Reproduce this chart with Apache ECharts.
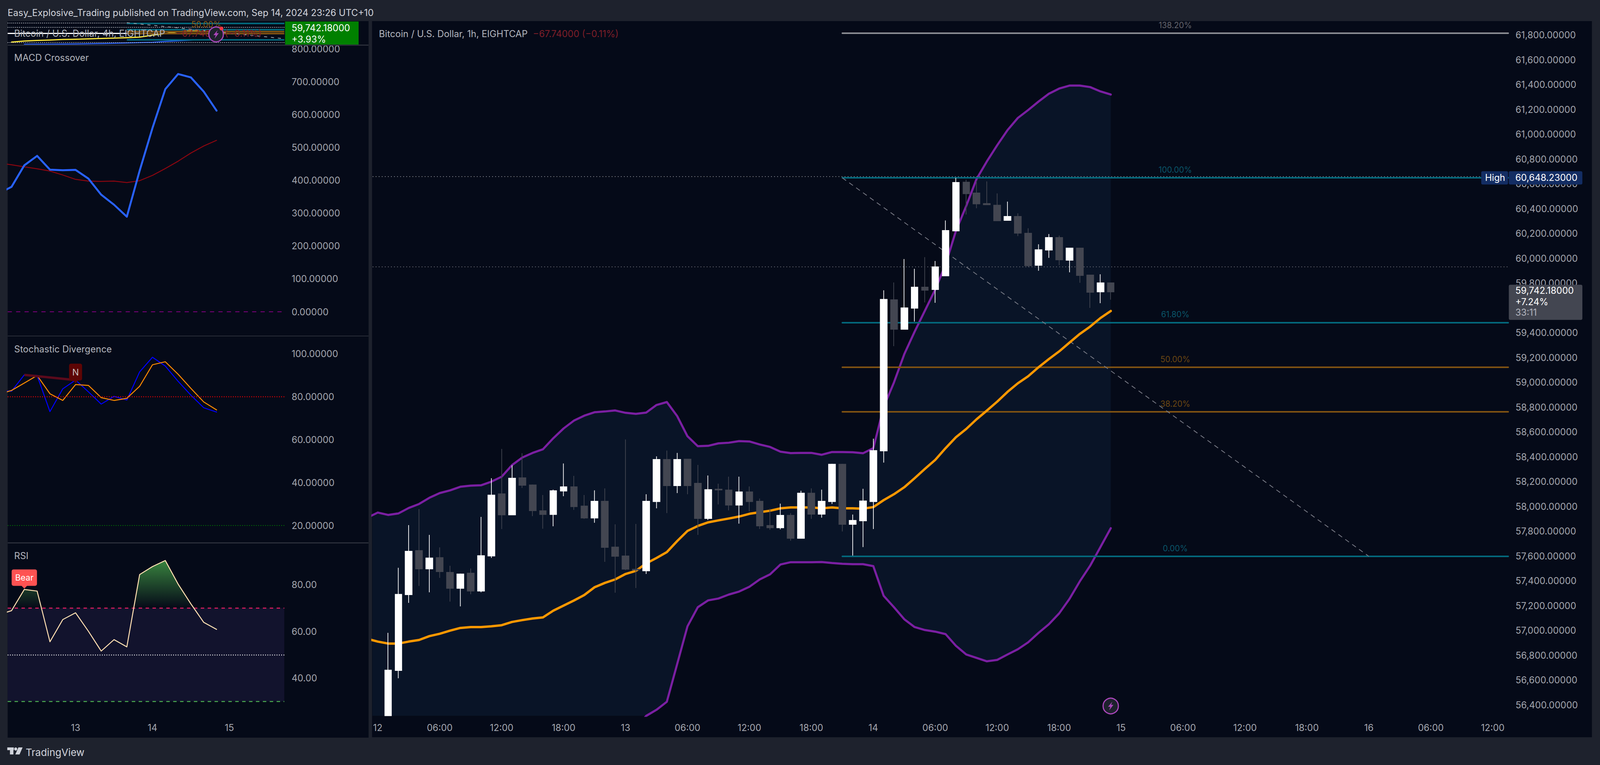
<!DOCTYPE html>
<html><head><meta charset="utf-8">
<style>html,body{margin:0;padding:0;background:#1e222d;overflow:hidden}#c{width:4176px;height:1958px;transform-origin:0 0}</style>
<script src="https://cdn.jsdelivr.net/npm/echarts@6/dist/echarts.min.js"></script>
</head><body><div id="c"></div>
<script>
// ---------- main chart (1h), index 0 = Sep 12 00:00 ----------
const tickLabels=['12','06:00','12:00','18:00','13','06:00','12:00','18:00','14','06:00','12:00','18:00','15','06:00','12:00','18:00','16','06:00','12:00'];
const priceTicks=[56400,56600,56800,57000,57200,57400,57600,57800,58000,58200,58400,58600,58800,59000,59200,59400,59600,59800,60000,60200,60400,60600,60800,61000,61200,61400,61600,61800];
const open=[56150,56312,56677,57288,57644,57496,57587,57468,57339,57462,57317,57600,58101,57931,58230,58173,57965,57934,58123,58158,58003,57906,58041,57672,57600,57493,57480,58038,58378,58167,58381,58186,57902,58139,58132,58010,58117,58041,57846,57827,57928,57742,58107,57937,58038,58340,57855,57883,58038,58447,59666,59427,59597,59767,59748,59858,60220,60614,60526,60441,60428,60305,60337,60202,59943,60066,60167,59984,60082,59865,59729,59802];
const close=[56220,56680,57291,57638,57496,57584,57474,57339,57455,57317,57603,58091,57931,58227,58170,57965,57934,58126,58158,57997,57906,58041,57669,57597,57493,57487,58041,58378,58167,58378,58167,57902,58135,58132,58010,58117,58038,57842,57827,57928,57742,58107,57937,58041,58340,57855,57887,58044,58450,59669,59427,59600,59767,59742,59931,60224,60611,60520,60438,60431,60302,60337,60202,59940,60069,60167,59987,60082,59861,59726,59802,59729];
const low=[56050,56312,56614,57222,57358,57307,57424,57232,57194,57291,57307,57584,57817,57931,58148,57921,57820,57839,58082,57972,57899,57868,57553,57304,57487,57342,57455,57984,57946,58107,58098,57770,57890,58016,57968,57861,57959,57817,57811,57814,57723,57742,57899,57909,58019,57798,57603,57672,57817,58353,59291,59427,59490,59644,59641,59858,60220,60353,60403,60431,60299,60305,60179,59931,59899,60003,59943,59887,59802,59600,59638,59666];
const high=[56280,56980,57505,57849,57978,57770,57669,57521,57458,57499,57915,58227,58463,58331,58428,58176,58091,58135,58346,58246,58091,58129,58145,57855,58539,57858,58098,58403,58450,58431,58381,58334,58249,58183,58239,58239,58161,58063,57981,58022,57946,58126,58145,58135,58343,58343,57934,58142,58546,59742,59805,59994,59915,60009,59978,60305,60648,60633,60624,60620,60523,60457,60362,60242,60113,60195,60183,60085,60085,59865,59871,59802];
// Bollinger bands, first value is the hour before index 0
const bbUpper=[57909,57950,57931,57943,57987,58019,58069,58107,58129,58158,58167,58170,58199,58239,58332,58394,58431,58460,58549,58628,58691,58731,58759,58765,58773,58754,58746,58756,58817,58841,58728,58565,58485,58488,58508,58513,58526,58523,58499,58479,58441,58429,58431,58431,58416,58438,58438,58436,58428,58469,58800,58999,59227,59408,59578,59748,59950,60220,60422,60639,60781,60911,61033,61131,61195,61263,61326,61368,61392,61392,61380,61345,61320];
const bbBasis=[56932,56910,56894,56894,56910,56923,56954,56973,56998,57020,57027,57027,57033,57042,57068,57083,57096,57105,57159,57200,57241,57285,57348,57383,57411,57455,57480,57540,57584,57631,57720,57802,57842,57871,57887,57902,57918,57940,57953,57965,57984,57991,57991,57991,57984,57991,57984,57984,57981,57994,58050,58098,58154,58227,58302,58375,58469,58557,58624,58702,58772,58844,58923,58992,59049,59121,59187,59249,59320,59390,59449,59518,59575];
const bbLower=[55884,55871,55858,55846,55833,55827,55839,55839,55868,55884,55887,55884,55868,55846,55805,55773,55761,55751,55770,55773,55792,55839,55937,56000,56050,56158,56214,56311,56360,56425,56728,57033,57187,57242,57257,57289,57313,57352,57411,57452,57531,57550,57550,57550,57551,57543,57537,57534,57534,57518,57279,57187,57090,57027,57003,56990,56970,56876,56806,56778,56751,56762,56806,56848,56904,56980,57049,57137,57254,57395,57521,57672,57824];
const fibPrices=[61813.6,60648.23,59482.6,59122.6,58762.6,57597];
const fibLabels=['138.20%','100.00%','61.80%','50.00%','38.20%','0.00%'];
const fibColors=['#8b8c92','#03687c','#03687c','#7f5212','#7f5212','#03687c'];
const fibTextColors=['#63646c','#0a5468','#0a5468','#6a4612','#6a4612','#0a5468'];
const lastClose=59742.18, highPrice=60648.23, prevLevel=59931;
// ---------- left panes (4h), index 5 = Sep 13, 11 = Sep 14, 17 = Sep 15; first value is index -1 ----------
const dayTicks=[5,11,17], dayLabels=['13','14','15'];
const macdLine=[360,380,445.6,474.4,432.3,430.6,431.7,405.2,356.2,325.7,289.4,429.4,559.1,677.3,723.4,713,669.8,612];
const macdSignal=[452.5,447.3,441,435.2,428.3,416.2,402.9,397.7,396.6,397.7,393.1,398.9,415,435.8,458.2,483,504.4,521.6];
const macdTicks=[0,100,200,300,400,500,600,700,800];
const stochK=[82.85,82.5,90.1,89.8,73,83.6,87.7,82.2,76.5,80.1,78.4,91.5,98.3,94.2,87.1,80.6,74.8,72.8];
const stochD=[81,82.85,86.3,89.8,81.3,78.2,85.6,85.2,79.5,78.2,79.2,84.8,94.8,96.2,90.4,83.8,77.5,73.8];
const stochTicks=[20,40,60,80,100];
const rsiLine=[67.2,68.9,78,77.3,55.6,65.1,68,60.1,51.6,56.5,53.4,84.4,87.8,90.4,80.3,71.8,63.9,60.9];
const rsiTicks=[40,60,80];
// mini 4h price pane, indices 0..16
const miniOpen=[57670,57503,58106,57619,57619,58106,57982,58033,57939,57939,57815,59319,59798,60161,60212,59972,59725];
const miniClose=[57546,58178,58178,58178,57982,58229,58178,57742,58033,58033,58832,59922,60408,60408,59922,59725,59790];
const miniLow=[57183,57503,58106,57619,57307,58106,57982,57742,57939,57939,57815,59319,59798,60161,59922,59725,59725];
const miniHigh=[57670,58178,58178,58178,57982,58229,58178,58033,58033,58033,59871,59922,60648,60408,60212,59972,59790];
const miniEma=[57183,57379,57488,57561,57670,57706,57779,57851,57924,57997,58106,58469,58759,59123,59268,59486,59560];
const miniSlow=[null,56776,56790,56805,56820,56834,56870,56905,56960,57016,57080,57150,57307,57420,57530,57640,57742];
const miniFib=[60648,59483,59123,58763,57597];
const miniFibColors=['#03687c','#03687c','#7f5212','#7f5212','#03687c'];
const miniDotted=[60720,59922,57089];

const FONT='Inter';
const LABEL='#a3a6af';
const PLOT='#050a18', OUTER='#1e222d', EDGE='#2a2e39';
const TOTAL_W=4176, TOTAL_H=1958;

// the browser window may be narrower than the picture: keep the layout, fit the width
document.getElementById('c').style.transform='scaleX('+(window.innerWidth/TOTAL_W)+')';

const chart=echarts.init(document.getElementById('c'),null,{width:TOTAL_W,height:TOTAL_H,renderer:'svg'});
const pairs=(a,start)=>a.map((v,i)=>[i+start,v]);
const fmt=(d)=>v=>Number(v).toLocaleString('en-US',{minimumFractionDigits:d,maximumFractionDigits:d});

const grids=[
 {left:972.5,right:TOTAL_W-3936.5,top:55,bottom:TOTAL_H-1832},
 {left:20,right:TOTAL_W-742,top:55,bottom:TOTAL_H-114},
 {left:20,right:TOTAL_W-742,top:116,bottom:TOTAL_H-858},
 {left:20,right:TOTAL_W-742,top:861,bottom:TOTAL_H-1389},
 {left:20,right:TOTAL_W-742,top:1391,bottom:TOTAL_H-1834}
];
const hiddenX=(g,min,max)=>({type:'value',gridIndex:g,min,max,show:false,splitLine:{show:false}});
const LX_MIN=-0.299, LX_MAX=21.285;
const yAxis=(g,min,max,ticks,d)=>({type:'value',gridIndex:g,min,max,position:'right',scale:true,
  axisLine:{show:false},axisTick:{show:false},splitLine:{show:false},
  axisLabel:ticks?{show:true,customValues:ticks,formatter:fmt(d),color:LABEL,fontFamily:FONT,fontSize:24,margin:19,align:'left',showMinLabel:true,showMaxLabel:true}:{show:false}});

const dash=(y,color,type,width)=>({yAxis:y,lineStyle:{color,type,width:width||2},label:{show:false}});
const ML=(data)=>({silent:true,symbol:'none',animation:false,label:{show:false},emphasis:{disabled:true},data});
const holder=(xi,yi,x,y,extra)=>Object.assign({type:'line',xAxisIndex:xi,yAxisIndex:yi,data:[[x,y]],symbol:'none',lineStyle:{width:0},silent:true,animation:false},extra);
const line=(xi,yi,arr,start,color,width,extra)=>Object.assign({type:'line',xAxisIndex:xi,yAxisIndex:yi,data:pairs(arr,start),showSymbol:false,symbol:'none',smooth:false,silent:true,animation:false,lineStyle:{color,width,cap:'round',join:'round'}},extra||{});

const fibLines=fibPrices.map((p,i)=>[
 {coord:[45,p],lineStyle:{color:fibColors[i],width:4,type:'solid',cap:'round'},
  label:{show:true,position:'middle',formatter:fibLabels[i],color:fibTextColors[i],fontFamily:FONT,fontSize:21,distance:10}},
 {coord:[109.5,p]}
]);
const trend=[{coord:[45,fibPrices[1]],lineStyle:{color:'#787b86',width:2,type:[12,10]},label:{show:false}},{coord:[96,fibPrices[5]]}];

const series=[
 {type:'custom',xAxisIndex:1,yAxisIndex:0,clip:true,silent:true,animation:false,z:1,
  data:bbUpper.map((u,i)=>[i-1,u,bbLower[i]]),encode:{x:0,y:1},
  renderItem(params,api){
    if(params.dataIndex!==0)return;
    const top=bbUpper.map((u,i)=>api.coord([i-1,u]));
    const bot=bbLower.map((l,i)=>api.coord([i-1,l])).reverse();
    return {type:'polygon',shape:{points:top.concat(bot)},style:{fill:'#091427'}};
  }},
 holder(1,0,45,60648,{z:2,markLine:ML([dash(highPrice+12,'#8a8d96',[2,6]),dash(prevLevel,'#6f727c',[2,6])])}),
 holder(1,0,45,60648,{z:3,markLine:ML([...fibLines,trend])}),
 line(1,0,bbUpper,-1,'#7b1fa2',5.5,{z:4}),
 line(1,0,bbLower,-1,'#7b1fa2',5.5,{z:4}),
 line(1,0,bbBasis,-1,'#ff9800',6,{z:5}),
 {type:'candlestick',xAxisIndex:0,yAxisIndex:0,z:6,barWidth:18.2,silent:true,animation:false,clip:true,
  data:open.map((o,i)=>[o,close[i],low[i],high[i]]),
  itemStyle:{color:'#ffffff',color0:'#434651',borderColor:'#ffffff',borderColor0:'#434651',borderWidth:1.8}},
 // mini pane
 holder(2,1,9,60000,{z:2,markLine:ML([...miniDotted.map(v=>dash(v,'#c8cad0',[2,3])),
    [{coord:[LX_MIN,58832],lineStyle:{color:'#ffffff',width:3,type:'solid'}},{coord:[10.5,58832]}],
    ...miniFib.map((p,i)=>[{coord:[9,p],lineStyle:{color:miniFibColors[i],width:4,type:'solid'}},{coord:[LX_MAX,p]}]),
    [{coord:[9,60790],lineStyle:{color:'#9a9ca3',width:2,type:[8,10]}},{coord:[LX_MAX,57810]}]])}),
 {type:'candlestick',xAxisIndex:2,yAxisIndex:1,z:3,barWidth:25,silent:true,animation:false,clip:true,
  data:miniOpen.map((o,i)=>[o,miniClose[i],miniLow[i],miniHigh[i]]),
  itemStyle:{color:'#008000',color0:'#ff0000',borderColor:'#008000',borderColor0:'#ff0000',borderWidth:1}},
 line(2,1,miniEma,0,'#ffeb3b',3,{z:4}),
 line(2,1,miniSlow,0,'#2962ff',2.5,{z:4}),
 // MACD
 line(3,2,macdSignal,-1,'#8b0610',2.5,{z:3}),
 line(3,2,macdLine,-1,'#2962ff',5,{z:4,markLine:ML([dash(0,'#800080',[11,11],2)])}),
 // Stochastic
 line(4,3,stochK,-1,'#0000ff',2.5,{z:3,
   markLine:ML([dash(80,'#ff0000',[2,4],2.5),dash(20,'#008000',[2,4],2),
     [{coord:[1,90.1],lineStyle:{color:'#5b0a1c',width:6,type:'solid'}},{coord:[5,87.7]}]])}),
 line(4,3,stochD,-1,'#ff8c00',2.5,{z:4,
   markPoint:{silent:true,animation:false,symbol:'triangle',symbolRotate:180,symbolSize:[16,9],symbolOffset:[0,-4],
     itemStyle:{color:'#5d0505'},
     label:{show:true,position:'top',distance:-2,formatter:'N',color:'#c8c0c0',backgroundColor:'#5d0505',borderRadius:5,padding:[10,10,10,10],fontFamily:FONT,fontSize:23,width:14,align:'center'},
     data:[{coord:[5,86.3]}]}}),
 // RSI
 line(5,4,rsiLine,-1,'#ffe0b2',2.5,{z:5,
   areaStyle:{origin:70,opacity:1,color:new echarts.graphic.LinearGradient(0,1436,0,1556,[{offset:0,color:'rgba(56,130,62,1)'},{offset:1,color:'rgba(56,130,62,0)'}],true)},
   markArea:{silent:true,animation:false,itemStyle:{color:'#12132d'},data:[[{yAxis:70},{yAxis:30}]]},
   markLine:ML([dash(70,'#e91e63',[9,9],2.5),dash(30,'#4caf50',[9,9],2.5),dash(50,'#ffffff',[2,4],2.5)]),
   markPoint:{silent:true,animation:false,symbol:'triangle',symbolRotate:180,symbolSize:[18,9],symbolOffset:[0,-5],
     itemStyle:{color:'#ff5252'},
     label:{show:true,position:'top',distance:-2,formatter:'Bear',color:'#ffffff',backgroundColor:'#ff5252',borderRadius:5,padding:[10,9,10,9],fontFamily:FONT,fontSize:22},
     data:[{coord:[1,78.3]}]}})
];

const option={
 backgroundColor:OUTER,animation:false,
 grid:grids,
 xAxis:[
  {type:'category',gridIndex:0,data:Array.from({length:110},(_,i)=>i),boundaryGap:true,
   axisLine:{show:false},axisTick:{show:false},splitLine:{show:false},
   axisLabel:{interval:5,formatter:(v,i)=>tickLabels[i/6],color:LABEL,fontFamily:FONT,fontSize:24,margin:18,hideOverlap:false}},
  hiddenX(0,-0.5,109.5),
  hiddenX(1,LX_MIN,LX_MAX),hiddenX(2,LX_MIN,LX_MAX),hiddenX(3,LX_MIN,LX_MAX),
  {type:'value',gridIndex:4,min:LX_MIN,max:LX_MAX,
   axisLine:{show:false},axisTick:{show:false},splitLine:{show:false},
   axisLabel:{customValues:dayTicks,formatter:v=>dayLabels[dayTicks.indexOf(v)],color:LABEL,fontFamily:FONT,fontSize:24,margin:16}}
 ],
 yAxis:[
  yAxis(0,56311.8,61908.7,priceTicks,5),
  yAxis(1,56725,61011,null,0),
  yAxis(2,-71.3,810.7,macdTicks,5),
  yAxis(3,12,108,stochTicks,5),
  yAxis(4,23.55,97.7,rsiTicks,2)
 ],
 series
};
chart.setOption(option);

const rect=(x,y,w,h,fill,z,r)=>({type:'rect',shape:{x,y,width:w,height:h,r:r||0},style:{fill},z,silent:true});
const txt=(x,y,text,fill,size,z,extra)=>({type:'text',z:z||100,silent:true,style:Object.assign({x,y,text,fill,font:`${size}px ${FONT}`,textVerticalAlign:'middle'},extra||{})});
const poly=(pts,fill,z)=>({type:'polygon',shape:{points:pts},style:{fill},z,silent:true});
const bolt=(cx,cy,r,z)=>[
 {type:'circle',z,silent:true,shape:{cx,cy,r},style:{fill:OUTER,stroke:'#ab47bc',lineWidth:3}},
 poly([[cx+4,cy-11],[cx-7,cy+2],[cx-1,cy+2],[cx-4,cy+11],[cx+7,cy-3],[cx+1,cy-3]],'#ab47bc',z+1)];

const yOf=p=>chart.convertToPixel({yAxisIndex:0},p);
const yH=yOf(highPrice), yC=yOf(lastClose);
const xEnd=3938, pillW=192;
const graphic=[
 // pane backgrounds behind the plots
 rect(971,54,3184,1833,PLOT,-10),
 rect(20,54,942,1834,PLOT,-10),
 rect(20,114,942,3,EDGE,200),
 rect(20,859,942,2,EDGE,200),
 rect(20,1388,942,3,EDGE,200),
 // header
 txt(20,32,'Easy_Explosive_Trading published on TradingView.com, Sep 14, 2024 23:26 UTC+10','#d1d4dc',24),
 // pane titles
 txt(989,86,'Bitcoin / U.S. Dollar, 1h, EIGHTCAP','#b2b5be',24),
 txt(1391,86,'\u221267.74000 (\u22120.11%)','#7e1e28',24),
 txt(37,85,'Bitcoin / U.S. Dollar, 4h, EIGHTCAP','#b2b5be',24,120),
 txt(459,85,'\u221267.74000 (\u22120.11%)','#7e1e28',24,120),
 txt(499,62,'50.00%','#8a5a14',21,110),
 txt(37,147.5,'MACD Crossover','#b2b5be',24),
 txt(37,893,'Stochastic Divergence','#b2b5be',24),
 txt(37,1422,'RSI','#b2b5be',24),
 // mini price pill
 rect(744,55,192,59,'#008000',130),
 txt(761,71,'59,742.18000','#ffffff',24,131),
 txt(761,100,'+3.93%','#ffffff',24,131),
 // high pills
 rect(3866,yH-17,70,34,'#132d63',140,4),
 rect(xEnd,yH-17,pillW,34,'#132d63',140,4),
 txt(3876,yH-1,'High','#ffffff',24,141),
 txt(3955,yH-1,'60,648.23000','#ffffff',24,141),
 // last price pill
 rect(xEnd,yC-14,pillW,90,'#434651',140,4),
 txt(3955,yC+1,'59,742.18000','#ffffff',24,141),
 txt(3955,yC+30,'+7.24%','#ffffff',24,141),
 txt(3955,yC+57,'33:11','#b2b5be',24,141),
 // icons
 ...bolt(2899,1807,20,150),
 ...bolt(564,88,19,125),
 {type:'circle',z:128,silent:true,shape:{cx:578,cy:73,r:5},style:{fill:'#f23645'}},
 // logo
 rect(19,1913,17,7,'#d1d4dc',100),
 rect(26,1913,9,18,'#d1d4dc',100),
 {type:'circle',z:100,silent:true,shape:{cx:41,cy:1917,r:4},style:{fill:'#d1d4dc'}},
 poly([[48,1913],[59,1913],[51,1931],[40,1931]],'#d1d4dc',100),
 txt(67,1925,'TradingView','#d1d4dc',26,100)
];
chart.setOption({graphic});
</script></body></html>
